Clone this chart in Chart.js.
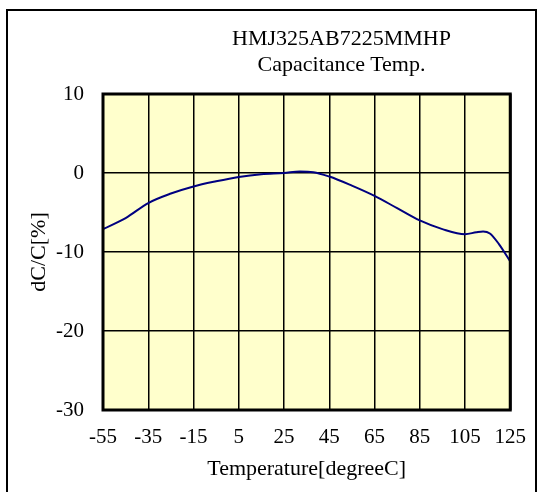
<!DOCTYPE html>
<html lang="en">
<head>
<meta charset="UTF-8">
<title>HMJ325AB7225MMHP Capacitance Temp.</title>
<script src="https://cdn.jsdelivr.net/npm/chart.js"></script>
<style>
    body { margin: 0; background: #fff; }
    .wrap { position: relative; width: 541px; height: 492px; overflow: hidden; }
    .frame {
        position: absolute; left: 6px; top: 9px; width: 531px; height: 520px;
        border: 2px solid #000; box-sizing: border-box;
    }
    .title {
        position: absolute; left: 231px; top: 25px; width: 221px;
        text-align: center; white-space: nowrap;
        font: 22px/26px "Liberation Serif", "Times New Roman", serif; color: #000;
    }
    canvas { position: absolute; left: 0; top: 0; }
</style>
</head>
<body>
<div class="wrap">
    <canvas id="tcChart" width="541" height="492"></canvas>
    <div class="frame"></div>
    <div class="title">HMJ325AB7225MMHP<br>Capacitance Temp.</div>
</div>
<script>
// temperature [degC] and dC/C [%]
const temps = [-55, -45, -35, -25, -15, -5, 5, 15, 25, 32, 38, 45, 55, 65, 75, 85, 95, 105, 110, 113, 116, 120, 125];
const dcc   = [-7.1, -5.7, -3.8, -2.6, -1.7, -1.05, -0.5, -0.15, 0.0, 0.18, 0.1, -0.45, -1.6, -2.9, -4.45, -6.0, -7.1, -7.75, -7.5, -7.4, -7.65, -9.0, -11.2];

const xTicks = [-55, -35, -15, 5, 25, 45, 65, 85, 105, 125];
const yTicks = [-30, -20, -10, 0, 10];

const serif = 'Liberation Serif';

// yellow plot area + heavy outline
const plotFrame = {
    id: 'plotFrame',
    beforeDraw(chart) {
        const { ctx, chartArea: a } = chart;
        ctx.save();
        ctx.fillStyle = '#ffffcc';
        ctx.fillRect(a.left, a.top, a.width, a.height);
        ctx.restore();
    },
    afterDraw(chart) {
        const { ctx, chartArea: a } = chart;
        ctx.save();
        ctx.strokeStyle = '#000';
        ctx.lineWidth = 3;
        ctx.strokeRect(a.left, a.top, a.width, a.height);
        ctx.restore();
    }
};

new Chart(document.getElementById('tcChart'), {
    type: 'line',
    data: {
        datasets: [{
            data: temps.map((t, i) => ({ x: t, y: dcc[i] })),
            borderColor: '#000080',
            borderWidth: 2,
            pointRadius: 0,
            cubicInterpolationMode: 'monotone',
            fill: false
        }]
    },
    options: {
        responsive: false,
        animation: false,
        layout: { padding: { left: 0, right: 28, top: 94, bottom: 0 } },
        plugins: {
            legend: { display: false },
            tooltip: { enabled: false }
        },
        scales: {
            x: {
                type: 'linear',
                min: -55,
                max: 125,
                afterBuildTicks: s => { s.ticks = xTicks.map(v => ({ value: v })); },
                afterFit: s => { s.height = 82; },
                grid: { color: '#000', lineWidth: 1.5, drawTicks: false },
                border: { display: false },
                ticks: {
                    padding: 15,
                    color: '#000',
                    maxRotation: 0,
                    autoSkip: false,
                    font: { family: serif, size: 21 }
                },
                title: {
                    display: true,
                    text: 'Temperature[degreeC]',
                    color: '#000',
                    font: { family: serif, size: 22 },
                    padding: { top: 0, bottom: 10 }
                }
            },
            y: {
                min: -30,
                max: 10,
                afterBuildTicks: s => { s.ticks = yTicks.map(v => ({ value: v })); },
                afterFit: s => { s.width = 103; },
                grid: { color: '#000', lineWidth: 1.5, drawTicks: false },
                border: { display: false },
                ticks: {
                    padding: 19,
                    color: '#000',
                    font: { family: serif, size: 21 }
                },
                title: {
                    display: true,
                    text: 'dC/C[%]',
                    color: '#000',
                    font: { family: serif, size: 22 },
                    padding: { top: 26, bottom: 0 }
                }
            }
        }
    },
    plugins: [plotFrame]
});
</script>
</body>
</html>
